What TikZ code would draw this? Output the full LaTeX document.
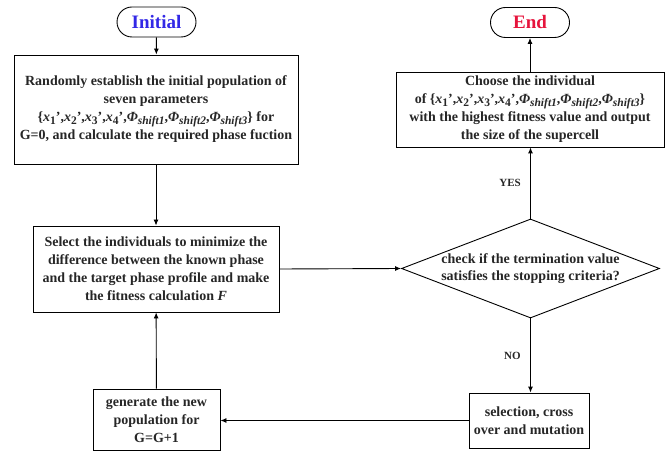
\documentclass[tikz,border=0pt]{standalone}
\usepackage{fontspec}
\setmainfont{Liberation Serif}
\usetikzlibrary{shapes.geometric,arrows.meta}
\definecolor{initblue}{RGB}{50,40,230}
\definecolor{endred}{RGB}{230,20,60}
\newcommand{\sbs}[1]{\raisebox{-0.4ex}{\fontsize{11.5}{11.5}\selectfont #1}}
\newcommand{\pset}{\{\textit{x}\sbs{1}',\textit{x}\sbs{2}',\textit{x}\sbs{3}',\textit{x}\sbs{4}',\textit{Φ}\sbs{\textit{shift1}},\textit{Φ}\sbs{\textit{shift2}},\textit{Φ}\sbs{\textit{shift3}}\}}
\begin{document}
\begin{tikzpicture}[x=1pt,y=-1pt, line width=0.9pt, >={Latex[length=6pt,width=5pt]},
 box/.style={draw, rectangle, align=center, font=\bfseries\fontsize{14}{18}\selectfont, text=black!85, inner sep=0pt},
 term/.style={draw, rounded corners=15pt, font=\bfseries\fontsize{19}{22}\selectfont, inner sep=0pt, minimum width=79pt, minimum height=30pt},
 lbl/.style={font=\bfseries\fontsize{11}{13}\selectfont, text=black!85}]
\useasboundingbox (0,0) rectangle (671,454);
\node[term, text=initblue] (init) at (156.5,22) {Initial};
\node[box, minimum width=284pt, minimum height=109pt] (b1) at (156,109.5) {Randomly establish the initial population of\\ seven parameters\\ \pset\ for\\ G=0, and calculate the required phase fuction};
\node[box, minimum width=246pt, minimum height=86pt] (b2) at (156,269) {Select the individuals to minimize the\\difference between the known phase\\and the target phase profile and make\\the fitness calculation \textit{F}};
\node[box, minimum width=127pt, minimum height=61pt] (b3) at (156.5,419.5) {generate the new\\population for\\G=G+1};
\node[draw, diamond, minimum width=258pt, minimum height=99pt, inner sep=0pt,
  label={[font=\bfseries\fontsize{14}{17}\selectfont, text=black!85, align=center]center:check if the termination value\\satisfies the stopping criteria?}] (d) at (530.5,268.5) {};
\node[box, minimum width=268pt, minimum height=75pt] (b4) at (530,109.5) {Choose the individual\\of \pset\\with the highest fitness value and output\\the size of the supercell};
\node[term, text=endred] (end) at (530,22.5) {End};
\node[box, minimum width=120pt, minimum height=55pt] (b5) at (529,420.5) {selection, cross\\over and mutation};
\draw[->] (init) -- (b1);
\draw[->] (b1) -- (b2);
\draw[->] (b3) -- (b2);
\draw[->] (b2.east) -- (d.west);
\draw[->] (d.north) -- node[lbl, left=6pt] {YES} (d.north |- b4.south);
\draw[->] (b4) -- (end);
\draw[->] (d.south) -- node[lbl, left=6pt] {NO} (d.south |- b5.north);
\draw[->] (b5.west) -- (b5.west -| b3.east);
\end{tikzpicture}
\end{document}
